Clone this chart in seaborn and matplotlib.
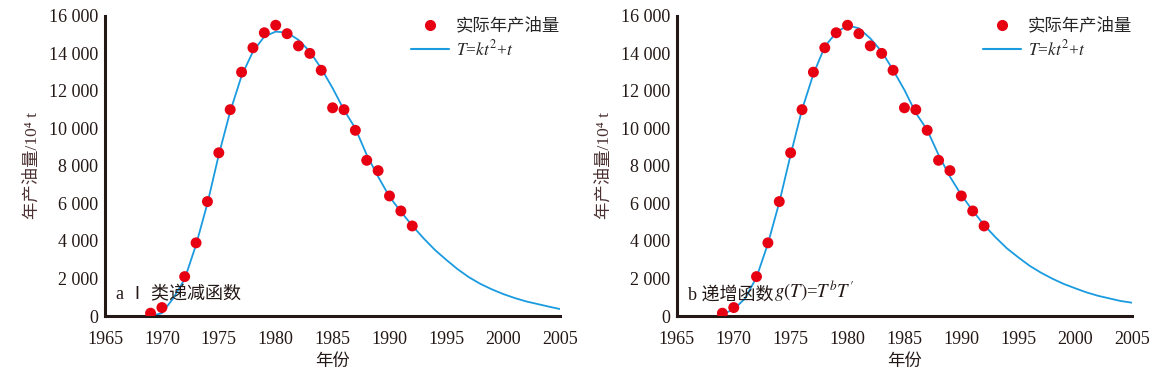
import matplotlib
matplotlib.use("Agg")
import matplotlib.pyplot as plt
import matplotlib.ticker as mticker
from matplotlib.lines import Line2D
import seaborn as sns
import pandas as pd

# ---- data ----
obs_years = [1969, 1970, 1972, 1973, 1974, 1975, 1976, 1977, 1978, 1979, 1980,
             1981, 1982, 1983, 1984, 1985, 1986, 1987, 1988, 1989, 1990, 1991, 1992]
obs_output = [150, 450, 2100, 3900, 6100, 8700, 11000, 13000, 14300, 15100, 15500,
              15050, 14400, 14000, 13100, 11100, 11000, 9900, 8300, 7750, 6400, 5600, 4800]

fit_years = list(range(1969, 2006))
fit_a = [0, 150, 950, 1970, 3800, 6000, 8600, 10900, 12800, 14100, 14900, 15160,
         15110, 14720, 14100, 13200, 12150, 10990, 10000, 8590, 7430, 6360, 5560,
         4820, 4140, 3520, 2990, 2490, 2060, 1710, 1420, 1170, 960, 780, 640, 500, 370]
fit_b = [100, 350, 940, 2060, 3850, 6050, 8600, 11000, 12900, 14360, 15110, 15490,
         15340, 14800, 14100, 13120, 12050, 10830, 9920, 8590, 7430, 6450, 5620,
         4850, 4200, 3610, 3130, 2680, 2310, 1990, 1710, 1480, 1260, 1080, 940, 800, 710]

x_ticks = [1965, 1970, 1975, 1980, 1985, 1990, 1995, 2000, 2005]
y_ticks = [0, 2000, 4000, 6000, 8000, 10000, 12000, 14000, 16000]

panel_titles = ["a Ⅰ 类递减函数", "b 递增函数"]
panel_math = ["", "$g(T)$=$T^{b}T'$"]
legend_obs = "实际年产油量"
legend_fit = "$T$=$kt^{2}$+$t$"
x_label = "年份"
y_label = "年产油量/10⁴ t"

# ---- style ----
sns.set_style("white")
plt.rcParams['font.family'] = ['Liberation Serif', 'Noto Sans CJK SC', 'DejaVu Sans']
plt.rcParams['mathtext.fontset'] = 'stix'

RED = "#e60012"
BLUE = "#1a9be0"
INK = "#231815"

fig = plt.figure(figsize=(11.67, 3.78), dpi=100)
positions = [[0.090, 0.164, 0.390, 0.794], [0.580, 0.164, 0.390, 0.794]]

obs_df = pd.DataFrame({"year": obs_years, "output": obs_output})
fits = [fit_a, fit_b]

for i in range(2):
    ax = fig.add_axes(positions[i])
    fit_df = pd.DataFrame({"year": fit_years, "output": fits[i]})
    sns.lineplot(data=fit_df, x="year", y="output", ax=ax, color=BLUE, lw=1.3, zorder=2)
    sns.scatterplot(data=obs_df, x="year", y="output", ax=ax, color=RED, s=62,
                    edgecolor="none", zorder=3)
    ax.set_xlim(1965, 2005)
    ax.set_ylim(0, 16000)
    ax.set_xticks(x_ticks)
    ax.set_yticks(y_ticks)
    ax.yaxis.set_major_formatter(mticker.FuncFormatter(
        lambda v, p: f"{int(v):,}".replace(",", " ")))
    for s in ["top", "right"]:
        ax.spines[s].set_visible(False)
    for s in ["left", "bottom"]:
        ax.spines[s].set_linewidth(2.2)
        ax.spines[s].set_color(INK)
    ax.tick_params(direction="in", length=5, width=1.8, color=INK,
                   labelsize=13, labelcolor=INK)
    ax.tick_params(axis="x", pad=11)
    ax.tick_params(axis="y", pad=5)
    ax.set_xlabel(x_label, fontsize=12.5, color=INK, labelpad=4)
    ax.set_ylabel(y_label, fontsize=12.5, color="#4a3030", labelpad=6)
    t1 = ax.text(1966.0, 650, panel_titles[i], fontsize=13, color=INK,
                 ha="left", va="bottom")
    if panel_math[i]:
        ax.annotate(panel_math[i], xy=(1, 0), xycoords=t1, fontsize=13.5,
                    color=INK, ha="left", va="bottom")
    handles = [Line2D([], [], marker="o", ls="none", color=RED, markersize=8, markeredgewidth=0),
               Line2D([], [], color=BLUE, lw=1.5)]
    ax.legend(handles, [legend_obs, legend_fit], loc="upper right", frameon=False,
              fontsize=12.5, handlelength=2.2, handletextpad=0.4, labelspacing=0.25,
              bbox_to_anchor=(1.035, 1.045))

fig.savefig("out.png", dpi=100)
